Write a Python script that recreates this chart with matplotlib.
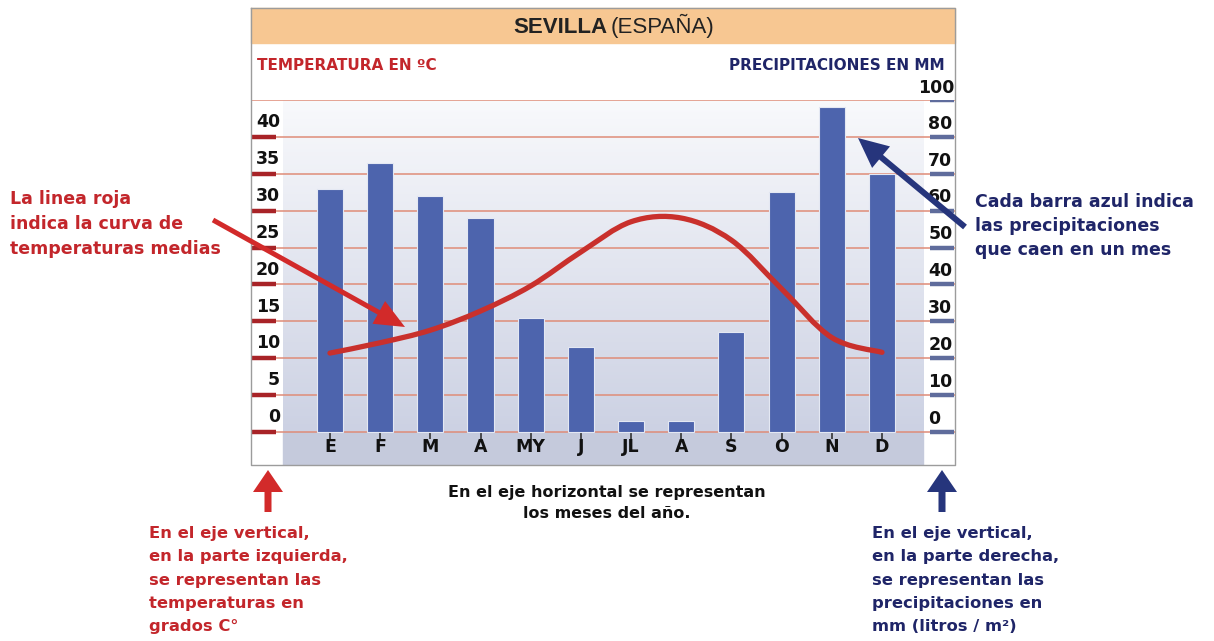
import numpy as np
import matplotlib
matplotlib.use("Agg")
import matplotlib.pyplot as plt
from matplotlib.path import Path
from matplotlib.patches import PathPatch, Rectangle, FancyArrow
from matplotlib.transforms import blended_transform_factory

plt.rcParams['font.family'] = ['DejaVu Sans']

# --- data ---
months = ["E", "F", "M", "A", "MY", "J", "JL", "A", "S", "O", "N", "D"]
precip_mm = [66, 73, 64, 58, 31, 23, 3, 3, 27, 65, 88, 70]
temp_c = [10.7, 12.1, 13.8, 16.4, 19.8, 24.4, 28.5, 29.0, 26.0, 19.4, 12.8, 10.8]
temp_ticks = [0, 5, 10, 15, 20, 25, 30, 35, 40]
precip_ticks = [0, 10, 20, 30, 40, 50, 60, 70, 80, 100]

RED = "#c3262b"
NAVY = "#1f2568"
BAR = "#4d64ad"

W, H = 1214, 641
fig = plt.figure(figsize=(W / 100, H / 100), dpi=100)

# main chart axes (temperature scale), pixel box 251..955 x 100..465
L, R, T, B = 251, 955, 100, 465
ax = fig.add_axes([L / W, 1 - B / H, (R - L) / W, (B - T) / H])
xmin, xmax = -1.574, 12.455
ymin, ymax = -4.47, 45
x = np.arange(len(months))

# gradient background of the plot region + month strip
grad = np.linspace(0, 1, 256).reshape(-1, 1)
top_c = np.array([0.975, 0.978, 0.988])
bot_c = np.array([0.80, 0.82, 0.89])
img = top_c + (bot_c - top_c) * grad
ax.imshow(img[:, None, :].repeat(2, axis=1), extent=[-0.937, 11.82, 0, 45],
          aspect="auto", origin="upper", zorder=0)
ax.add_patch(Rectangle((-0.937, ymin), 11.82 + 0.937, -ymin, color="#c5cadc", zorder=0.5))

# grid lines
for v in range(0, 50, 5):
    ax.axhline(v, color="#df8c78", lw=1.1, zorder=1)

trans_l = blended_transform_factory(ax.transAxes, ax.transData)
for v in temp_ticks:
    ax.plot([0, 0.0355], [v, v], transform=trans_l, color="#a82327", lw=3.2,
            solid_capstyle="butt", zorder=2)
    ax.text(0.0412, v + 2.0, str(v), transform=trans_l, ha="right", va="center",
            fontsize=12.5, fontweight="bold", color="#111111")

# month ticks and labels
ax.vlines(x, -1.0, -0.2, color="#333333", lw=1.2, zorder=2)
for i, m in enumerate(months):
    ax.text(x[i], -2.05, m, ha="center", va="center", fontsize=12.5,
            fontweight="bold", color="#111111")

ax.set_xlim(xmin, xmax)
ax.set_ylim(ymin, ymax)
ax.axis("off")

# precipitation axis (twice the temperature scale)
axp = ax.twinx()
axp.set_ylim(ymin * 2, ymax * 2)
axp.set_xlim(xmin, xmax)
axp.bar(x, precip_mm, width=0.52, color=BAR, edgecolor="#e4e8f3", lw=0.8, zorder=3)
trans_r = blended_transform_factory(axp.transAxes, axp.transData)
for v in precip_ticks:
    # the picture puts "100" on the line right above 80
    pos = temp_ticks[-1] * 2 + 10 if v == 100 else v
    axp.plot([0.9645, 0.9986], [pos, pos], transform=trans_r, color="#5f6c9c", lw=3.2,
             solid_capstyle="butt", zorder=2)
    if v == 100:
        axp.text(0.9986, pos + 3.2, str(v), transform=trans_r, ha="right", va="center",
                 fontsize=12.5, fontweight="bold", color="#111111")
    else:
        axp.text(0.962, pos + 3.6, str(v), transform=trans_r, ha="left", va="center",
                 fontsize=12.5, fontweight="bold", color="#111111")
axp.axis("off")

# temperature curve (smooth Bezier through the monthly means)
axt = ax.twinx()
axt.set_ylim(ymin, ymax)
axt.set_xlim(xmin, xmax)
pts = np.column_stack([x, temp_c])
verts = [tuple(pts[0])]
codes = [Path.MOVETO]
for i in range(len(pts) - 1):
    p0 = pts[max(i - 1, 0)]
    p1, p2 = pts[i], pts[i + 1]
    p3 = pts[min(i + 2, len(pts) - 1)]
    c1 = p1 + (p2 - p0) / 6
    c2 = p2 - (p3 - p1) / 6
    verts += [tuple(c1), tuple(c2), tuple(p2)]
    codes += [Path.CURVE4] * 3
axt.add_patch(PathPatch(Path(verts, codes), fill=False, edgecolor="#c9302c", lw=3.8,
                        capstyle="round", zorder=4))
axt.axis("off")

# overlay in pixel coordinates: frame, title band, texts, arrows
ov = fig.add_axes([0, 0, 1, 1])
ov.set_xlim(0, W)
ov.set_ylim(H, 0)
ov.axis("off")
ov.patch.set_alpha(0)

ov.add_patch(Rectangle((251, 8), 704, 35, color="#f7c792", zorder=1))
ov.plot([251, 251, 955, 955, 251], [8, 465, 465, 8, 8], color="#9c9c9c", lw=1.0, zorder=2)

ov.text(607, 33, "SEVILLA", ha="right", va="baseline", fontsize=16, fontweight="bold",
        color="#222222", family="Liberation Sans")
ov.text(611, 33, "(ESPAÑA)", ha="left", va="baseline", fontsize=16,
        color="#222222", family="Liberation Sans")

ov.text(257, 66, "TEMPERATURA EN ºC", ha="left", va="center", fontsize=11,
        fontweight="bold", color=RED)
ov.text(945, 66, "PRECIPITACIONES EN MM", ha="right", va="center", fontsize=11,
        fontweight="bold", color=NAVY)

ov.text(10, 224, "La linea roja\nindica la curva de\ntemperaturas medias", ha="left",
        va="center", fontsize=12.5, fontweight="bold", color=RED, linespacing=1.5)
ov.text(975, 226, "Cada barra azul indica\nlas precipitaciones\nque caen en un mes",
        ha="left", va="center", fontsize=12.5, fontweight="bold", color=NAVY,
        linespacing=1.45)
ov.text(607, 503, "En el eje horizontal se representan\nlos meses del año.", ha="center",
        va="center", fontsize=11.5, fontweight="bold", color="#111111", linespacing=1.45)
ov.text(149, 580, "En el eje vertical,\nen la parte izquierda,\nse representan las\n"
        "temperaturas en\ngrados C°", ha="left", va="center", fontsize=11.8,
        fontweight="bold", color=RED, linespacing=1.7)
ov.text(872, 580, "En el eje vertical,\nen la parte derecha,\nse representan las\n"
        "precipitaciones en\nmm (litros / m²)", ha="left", va="center", fontsize=11.8,
        fontweight="bold", color=NAVY, linespacing=1.7)

# arrows
ov.add_patch(FancyArrow(213, 220, 405 - 213, 327 - 220, width=5, head_width=26,
                        head_length=30, length_includes_head=True, color="#d22a2a",
                        lw=0, zorder=5))
ov.add_patch(FancyArrow(965, 227, 858 - 965, 138 - 227, width=6, head_width=28,
                        head_length=30, length_includes_head=True, color="#26357c",
                        lw=0, zorder=5))
ov.add_patch(FancyArrow(268, 512, 0, 470 - 512, width=7, head_width=30,
                        head_length=22, length_includes_head=True, color="#d22a2a",
                        lw=0, zorder=5))
ov.add_patch(FancyArrow(942, 512, 0, 470 - 512, width=7, head_width=30,
                        head_length=22, length_includes_head=True, color="#26357c",
                        lw=0, zorder=5))

fig.savefig("out.png", dpi=100)
